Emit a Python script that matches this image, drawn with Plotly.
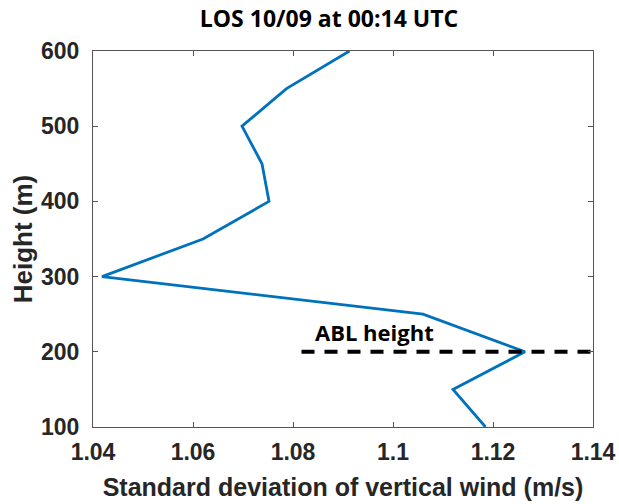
import plotly.graph_objects as go

heights = [100, 150, 200, 250, 300, 350, 400, 450, 500, 550, 600]
sigma_w = [1.1185, 1.1120, 1.1264, 1.1060, 1.0418, 1.0620, 1.0752, 1.0738, 1.0698, 1.0787, 1.0913]
abl_height = 200
abl_x = [1.0817, 1.14]
x_ticks = [1.04, 1.06, 1.08, 1.1, 1.12, 1.14]
x_tick_text = ["1.04", "1.06", "1.08", "1.1", "1.12", "1.14"]
y_ticks = [100, 200, 300, 400, 500, 600]

fig = go.Figure()
fig.add_trace(go.Scatter(x=sigma_w, y=heights, mode="lines",
                         line=dict(color="#0072BD", width=2.8), showlegend=False))
fig.add_trace(go.Scatter(x=abl_x, y=[abl_height, abl_height], mode="lines",
                         line=dict(color="black", width=4, dash="13px,10px"), showlegend=False))

fig.add_annotation(x=1.0962, y=226, text="<b>ABL height</b>", showarrow=False,
                   xanchor="center", yanchor="middle",
                   font=dict(family="Open Sans", size=22, color="black"))

axis_common = dict(showline=True, linecolor="#555555", linewidth=1, mirror="ticks",
                   ticks="inside", ticklen=5, tickwidth=1, tickcolor="#555555",
                   showgrid=False, zeroline=False,
                   tickfont=dict(family="Liberation Sans", size=23, color="#262626", weight="bold"))

fig.update_xaxes(range=[1.04, 1.14], tickvals=x_ticks, ticktext=x_tick_text,
                 ticklabelstandoff=4,
                 title=dict(text="Standard deviation of vertical wind (m/s)", standoff=14,
                            font=dict(family="Liberation Sans", size=25, color="#262626", weight="bold")),
                 **axis_common)
fig.update_yaxes(range=[100, 600], tickvals=y_ticks, ticklabelstandoff=8,
                 title=dict(text="Height (m)", standoff=0,
                            font=dict(family="Liberation Sans", size=26, color="#262626", weight="bold")),
                 **axis_common)

fig.update_layout(
    width=619, height=504,
    margin=dict(l=93, r=26, t=51, b=77, autoexpand=False),
    plot_bgcolor="white", paper_bgcolor="white",
    title=dict(text="<b>LOS 10/09 at 00:14 UTC</b>", x=0.5315, xref="container", xanchor="center",
               y=1 - 11 / 504, yref="container", yanchor="top",
               font=dict(family="Open Sans", size=23, color="black")),
)

fig.write_html("out.html")
